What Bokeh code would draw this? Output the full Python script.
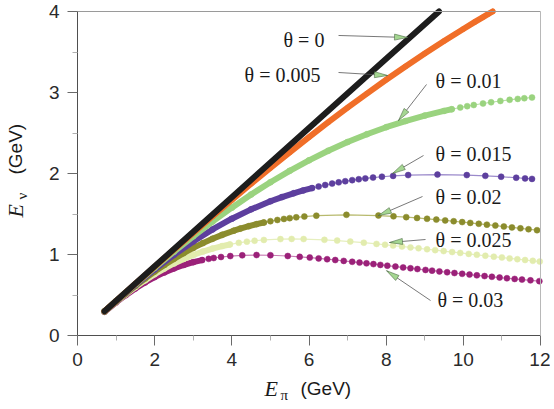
import math
from bokeh.plotting import figure
from bokeh.models import Range1d, Label, FixedTicker, LinearAxis
from bokeh.embed import file_html
from bokeh.resources import INLINE

# ---------------- data ----------------
x_ticks = [0, 2, 4, 6, 8, 10, 12]
x_minor = [1, 3, 5, 7, 9, 11]
y_ticks = [0, 1, 2, 3, 4]
y_minor = [0.5, 1.5, 2.5, 3.5]

e_pi_t0 = [0.7, 2.0, 4.0, 6.0, 8.0, 9.37]
e_nu_t0 = [0.299, 0.854, 1.708, 2.562, 3.416, 4.0]

e_pi_t005 = [0.7, 1.0, 1.5, 2.0, 2.5, 3.0, 3.5, 4.0, 4.5, 5.0, 5.5, 6.0, 6.5, 7.0, 7.5,
             8.0, 8.5, 9.0, 9.5, 10.0, 10.3, 10.5, 10.65, 10.76]
e_nu_t005 = [0.299, 0.4265, 0.6387, 0.8496, 1.0590, 1.2664, 1.4714, 1.6736, 1.8728, 2.0686,
             2.2608, 2.4489, 2.6328, 2.8122, 2.9869, 3.1568, 3.3216, 3.4812, 3.6355, 3.7845,
             3.8712, 3.9279, 3.9699, 4.0]

e_pi_t01 = [0.7, 1.0, 1.5, 2.0, 2.5, 3.0, 3.5, 4.0, 4.5, 5.0, 5.5, 6.0, 6.5, 7.0, 7.5, 8.0,
            8.5, 9.0, 9.5, 9.7, 9.92, 10.1, 10.27, 10.51, 10.72, 10.96, 11.2, 11.41, 11.58, 11.78]
e_nu_t01 = [0.2982, 0.4248, 0.6332, 0.8368, 1.0343, 1.2245, 1.4061, 1.5784, 1.7406, 1.8923,
            2.0330, 2.1625, 2.2810, 2.3885, 2.4852, 2.5716, 2.6479, 2.7147, 2.7726, 2.7934,
            2.8146, 2.8309, 2.8454, 2.8643, 2.8795, 2.8954, 2.9096, 2.9209, 2.9292, 2.9381]

e_pi_t015 = [0.7, 1.0, 1.5, 2.0, 2.5, 3.0, 3.5, 4.0, 4.5, 5.0, 5.3, 5.6, 5.85, 6.08, 6.25,
             6.42, 6.6, 6.77, 6.94, 7.12, 7.29, 7.46, 7.66, 7.89, 8.18, 8.57, 9.33, 10.09,
             10.57, 10.98, 11.37, 11.6, 11.78]
e_nu_t015 = [0.2972, 0.4221, 0.6243, 0.8163, 0.9957, 1.1604, 1.3093, 1.4417, 1.5574, 1.6568,
             1.7089, 1.7556, 1.7905, 1.8196, 1.8393, 1.8575, 1.8752, 1.8905, 1.9044, 1.9178,
             1.9292, 1.9394, 1.9499, 1.9602, 1.9706, 1.9803, 1.9870, 1.9805, 1.9710, 1.9602,
             1.9478, 1.9398, 1.9331]

e_pi_t02 = [0.7, 1.0, 1.25, 1.5, 1.75, 2.0, 2.25, 2.5, 2.75, 3.0, 3.25, 3.5, 3.75, 4.05, 4.22,
            4.44, 4.64, 4.83, 5.0, 5.18, 5.35, 5.5, 5.67, 5.88, 6.19, 6.97, 7.8, 8.19, 8.52,
            8.8, 9.06, 9.3, 9.53, 9.75, 9.97, 10.18, 10.4, 10.61, 10.83, 11.05, 11.26, 11.48,
            11.69, 11.91]
e_nu_t02 = [0.2959, 0.4184, 0.5172, 0.6122, 0.7031, 0.7892, 0.8703, 0.9461, 1.0165, 1.0813,
            1.1405, 1.1942, 1.2426, 1.2938, 1.3196, 1.3497, 1.3741, 1.3946, 1.4110, 1.4263,
            1.4391, 1.4489, 1.4586, 1.4686, 1.4796, 1.4902, 1.4811, 1.4714, 1.4611, 1.4511,
            1.4409, 1.4309, 1.4208, 1.4107, 1.4003, 1.3901, 1.3791, 1.3685, 1.3572, 1.3457,
            1.3347, 1.3231, 1.3119, 1.3002]

e_pi_t025 = [0.7, 1.0, 1.25, 1.5, 1.75, 2.0, 2.25, 2.5, 2.75, 3.0, 3.25, 3.5, 3.75, 3.95,
             4.18, 4.39, 4.59, 4.83, 5.26, 5.55, 5.86, 6.4, 6.73, 7.07, 7.42, 7.75, 7.97,
             8.18, 8.41, 8.63, 8.84, 9.06, 9.27, 9.49, 9.71, 9.92, 10.14, 10.35, 10.57, 10.79,
             11.0, 11.2, 11.4, 11.6, 11.8, 11.98]
e_nu_t025 = [0.2943, 0.4137, 0.5083, 0.5974, 0.6804, 0.7569, 0.8265, 0.8893, 0.9450, 0.9941,
             1.0366, 1.0730, 1.1036, 1.1241, 1.1439, 1.1585, 1.1696, 1.1797, 1.1901, 1.1922,
             1.1908, 1.1812, 1.1717, 1.1597, 1.1456, 1.1309, 1.1205, 1.1103, 1.0987, 1.0875,
             1.0766, 1.0650, 1.0539, 1.0422, 1.0304, 1.0192, 1.0075, 0.9964, 0.9848, 0.9733,
             0.9624, 0.9521, 0.9419, 0.9318, 0.9219, 0.9130]

e_pi_t03 = [0.7, 1.0, 1.25, 1.5, 1.75, 2.0, 2.25, 2.5, 2.75, 3.0, 3.23, 3.4, 3.53, 3.72, 3.96,
            4.27, 4.64, 5.0, 5.45, 5.76, 6.02, 6.25, 6.47, 6.68, 6.9, 7.12, 7.31, 7.49, 7.67,
            7.85, 8.03, 8.24, 8.44, 8.63, 8.81, 9.02, 9.19, 9.38, 9.58, 9.77, 9.97, 10.16,
            10.35, 10.55, 10.74, 10.94, 11.13, 11.33, 11.52, 11.74, 11.97]
e_nu_t03 = [0.2923, 0.4082, 0.4978, 0.5802, 0.6547, 0.7208, 0.7787, 0.8284, 0.8703, 0.9049,
            0.9308, 0.9465, 0.9567, 0.9691, 0.9807, 0.9898, 0.9935, 0.9909, 0.9812, 0.9713,
            0.9615, 0.9518, 0.9419, 0.9319, 0.9211, 0.9100, 0.9001, 0.8907, 0.8812, 0.8716,
            0.8620, 0.8508, 0.8401, 0.8301, 0.8206, 0.8096, 0.8008, 0.7911, 0.7809, 0.7714,
            0.7615, 0.7523, 0.7432, 0.7337, 0.7248, 0.7157, 0.7071, 0.6983, 0.6900, 0.6807,
            0.6711]

series_labels = ["θ = 0.03", "θ = 0.025", "θ = 0.02", "θ = 0.015", "θ = 0.01", "θ = 0.005", "θ = 0"]

# ---------------- layout & styles ----------------
W, H = 550, 405                 # canvas
X0PX, XPX = 77.0, 463.0 / 12    # pixel of E_pi = 0, pixels per GeV
Y0PX, YPX = 335.0, 324.0 / 4    # pixel of E_nu = 0, pixels per GeV

x_rng = Range1d(-X0PX / XPX, (W - X0PX) / XPX)
y_rng = Range1d((Y0PX - H) / YPX, Y0PX / YPX)

curves = [
    # x, y, colour, thin-line colour, dense up to, marker size, markers
    (e_pi_t03, e_nu_t03, "#9b2179", "#c77bb2", 3.23, 6, True),
    (e_pi_t025, e_nu_t025, "#e2ecae", "#e6efbf", 3.95, 6, True),
    (e_pi_t02, e_nu_t02, "#8b8c2d", "#b8ba6e", 4.83, 6, True),
    (e_pi_t015, e_nu_t015, "#5d3f9e", "#9b8acb", 6.08, 6, True),
    (e_pi_t01, e_nu_t01, "#9ad37f", "#b6e0a3", 9.7, 6, True),
    (e_pi_t005, e_nu_t005, "#f06e28", "#f06e28", 11.0, 5, True),
    (e_pi_t0, e_nu_t0, "#1d1d1d", "#1d1d1d", 11.0, 0, False),
]

label_pos = [(9.33, 0.444), (9.28, 1.173), (9.28, 1.716), (9.28, 2.235),
             (9.28, 3.136), (4.33, 3.21), (5.34, 3.642)]
arrows = [  # tail x, tail y, tip x, tip y
    (9.15, 0.432, 8.01, 0.80),
    (9.02, 1.185, 8.087, 1.148),
    (8.942, 1.716, 7.80, 1.481),
    (8.968, 2.222, 8.165, 2.0),
    (9.046, 3.099, 8.32, 2.654),
    (6.765, 3.247, 8.035, 3.21),
    (6.765, 3.704, 8.553, 3.679),
]

p = figure(width=W, height=H, x_range=x_rng, y_range=y_rng,
           output_backend="svg", toolbar_location=None,
           min_border_left=0, min_border_right=0, min_border_top=0, min_border_bottom=0)
p.title.visible = False
p.grid.visible = False
p.outline_line_color = None
p.background_fill_color = "white"
p.border_fill_color = "white"

xa, ya = p.xaxis[0], p.yaxis[0]
xa.fixed_location = 0
ya.fixed_location = 0
xa.bounds = (0, 12)
ya.bounds = (0, 4)
xa.ticker = FixedTicker(ticks=x_ticks, minor_ticks=x_minor)
ya.ticker = FixedTicker(ticks=y_ticks, minor_ticks=y_minor)
for ax in (xa, ya):
    ax.axis_line_color = "#4f4f4f"
    ax.axis_line_width = 1
    ax.major_tick_line_color = "#6a6a6a"
    ax.major_tick_out = 10
    ax.major_tick_in = 0
    ax.minor_tick_line_color = "#b0b0b0"
    ax.minor_tick_out = 5
    ax.minor_tick_in = 0
    ax.major_label_text_font = "Liberation Sans"
    ax.major_label_text_font_size = "19px"
    ax.major_label_text_color = "#2a2a2a"
xa.major_label_standoff = 7
ya.major_label_standoff = 8

# frame lines on top and right
top = LinearAxis(fixed_location=4, bounds=(0, 12), ticker=FixedTicker(ticks=[]),
                 axis_line_color="#9a9a9a", major_tick_line_color=None,
                 minor_tick_line_color=None)
right = LinearAxis(fixed_location=12, bounds=(0, 4), ticker=FixedTicker(ticks=[]),
                   axis_line_color="#b8b8b8", major_tick_line_color=None,
                   minor_tick_line_color=None)
p.add_layout(top, "above")
p.add_layout(right, "right")

# curves: largest angle first, theta = 0 last (on top)
for xs, ys, col, thin, dense, msize, show in curves:
    p.line(xs, ys, line_color=thin, line_width=1.2)
    dx = [a for a in xs if a <= dense]
    dy = ys[:len(dx)]
    p.line(dx, dy, line_color=col, line_width=6, line_cap="round", line_join="round")
    if show:
        p.scatter(xs, ys, marker="circle", size=msize, fill_color=col, line_color=col,
                  line_width=0.5)

# arrows with narrow green heads
hx, hy = [], []
for tx, ty, px_, py_ in arrows:
    p.segment(x0=[tx], y0=[ty], x1=[px_], y1=[py_], line_color="#555555", line_width=0.8)
    ux, uy = (px_ - tx) * XPX, (py_ - ty) * YPX
    L = math.hypot(ux, uy)
    ux, uy = ux / L, uy / L
    bx, by = px_ * XPX - 13 * ux, py_ * YPX - 13 * uy
    nx, ny = -uy, ux
    hx.append([px_, (bx + 3 * nx) / XPX, (bx - 3 * nx) / XPX])
    hy.append([py_, (by + 3 * ny) / YPX, (by - 3 * ny) / YPX])
p.patches(hx, hy, fill_color="#a4d691", line_color="#4d6b45", line_width=0.6)

for (lx, ly), txt in zip(label_pos, series_labels):
    p.add_layout(Label(x=lx, y=ly, text=txt, text_font="Liberation Serif",
                       text_font_size="20px", text_color="#1a1a1a",
                       text_align="left", text_baseline="middle"))


def add_label(px, py, text, font, size, style="normal", angle=0.0):
    p.add_layout(Label(x=(px - X0PX) / XPX, y=(Y0PX - py) / YPX, text=text,
                       text_font=font, text_font_size=size, text_font_style=style,
                       text_color="#1a1a1a", angle=angle,
                       text_align="left", text_baseline="middle"))


# axis titles (pixel positions)
add_label(264, 388, "E", "Liberation Serif", "22px", "italic")
add_label(280, 394, "π", "Liberation Serif", "15px")
add_label(300, 388, "(GeV)", "Liberation Sans", "19px")

add_label(15, 217, "E", "Liberation Serif", "22px", "italic", math.pi / 2)
add_label(21, 199, "ν", "Liberation Serif", "15px", "normal", math.pi / 2)
add_label(15, 174, "(GeV)", "Liberation Sans", "19px", "normal", math.pi / 2)

open("out.html", "w").write(file_html(p, INLINE))
